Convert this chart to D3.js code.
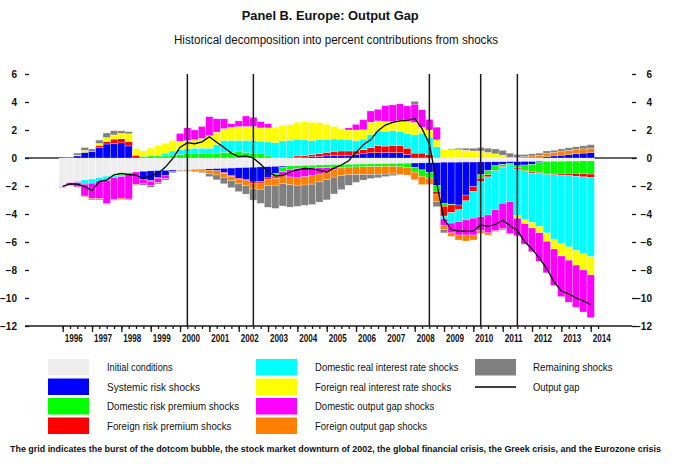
<!DOCTYPE html>
<html>
<head>
<meta charset="utf-8">
<script src="https://cdn.jsdelivr.net/npm/d3@7"></script>
<style>
  body { margin: 0; background: #fff; }
  svg { display: block; }
  text { font-family: "Liberation Sans Narrow", "Arial Narrow", "Liberation Sans", Arial, sans-serif; fill: #111; }
</style>
</head>
<body>
<svg id="chart" width="673" height="466"></svg>
<script>
// Quarterly periods 1996Q1 .. 2014Q1
const quarters = d3.range(73).map(i => `${1996 + Math.floor(i / 4)}Q${i % 4 + 1}`);

// Contributions to the output gap (percent), one value per quarter
const initialConditions = [
  -2.05,-1.76,-1.66,-1.57, -1.50,-1.40,-1.30,-1.20, -1.12,-1.05,-1.00,-0.95,
  -0.92,-0.90,-0.88,-0.86, -0.85,-0.83,-0.82,-0.80, -0.78,-0.76,-0.74,-0.72,
  -0.70,-0.68,-0.66,-0.64, -0.62,-0.60,-0.58,-0.56, -0.55,-0.53,-0.52,-0.50,
  -0.49,-0.47,-0.46,-0.45, -0.44,-0.43,-0.42,-0.41, -0.40,-0.39,-0.38,-0.37,
  -0.36,-0.35,-0.34,-0.33, -0.30,-0.30,-0.30,-0.29, -0.29,-0.28,-0.28,-0.27,
  -0.27,-0.26,-0.26,-0.25, -0.25,-0.24,-0.24,-0.23, -0.23,-0.22,-0.22,-0.21,
  -0.21];
const systemicRisk = [
  0.00,0.05,0.15,0.40, 0.45,0.76,1.00,1.05, 1.08,0.86,0.00,-0.60,
  -0.70,-0.50,-0.35,-0.10, 0.00,0.00,-0.03,-0.05, -0.10,-0.15,-0.30,-0.55,
  -0.75,-0.85,-1.05,-1.05, -0.80,-0.50,-0.10,0.02, 0.05,0.07,0.10,0.12,
  0.15,0.18,0.20,0.20, 0.25,0.30,0.38,0.38, 0.40,0.40,0.38,0.25,
  -0.30,-0.50,-0.70,-1.65, -2.95,-3.00,-3.06,-2.36, -1.76,-0.92,-0.62,-0.28,
  -0.18,-0.14,-0.30,-0.25, -0.20,-0.10,0.10,0.15, 0.20,0.25,0.30,0.35,
  0.40];
const domesticRiskPremium = [
  0,0,0,0, 0,0,0,-0.05, -0.10,-0.10,0,0.12,
  0.15,0.15,0.15,0.20, 0.25,0.30,0.30,0.30, 0.30,0.35,0.40,0.40,
  0.45,0.40,0.35,0.30, 0.15,-0.15,-0.30,-0.25, -0.20,-0.20,-0.20,-0.20,
  -0.20,-0.20,-0.20,-0.20, -0.20,-0.20,-0.20,-0.20, -0.20,-0.20,-0.25,-0.30,
  -0.35,-0.45,-0.40,-0.40, -0.20,-0.05,0,0, 0,-0.25,-0.30,-0.25,
  -0.15,-0.10,-0.15,-0.40, -0.55,-0.70,-0.86,-0.87, -0.87,-0.88,-0.88,-0.91,
  -0.94];
const foreignRiskPremium = [
  0,0,0,0, 0,0.14,0.17,0.30, 0.30,0.31,0.20,0,
  -0.05,-0.05,0,0, 0,0,0,0, 0,0,-0.05,-0.05,
  -0.10,-0.10,-0.10,-0.10, -0.10,-0.10,0.02,0.05, 0.10,0.12,0.15,0.20,
  0.25,0.30,0.30,0.30, 0.25,0.30,0.35,0.50, 0.45,0.50,0.50,0.45,
  0.35,0.35,0.25,-0.20, -0.70,-0.55,-0.34,-0.41, -0.35,-0.25,-0.15,-0.10,
  -0.05,-0.05,-0.08,-0.08, -0.08,-0.08,-0.08,-0.10, -0.12,-0.15,-0.20,-0.23,
  -0.25];
const domesticRealRate = [
  0,0,-0.10,-0.30, -0.30,-0.25,-0.30,-0.15, -0.10,0,0,0,
  0,0,0.20,0.30, 0.35,0.35,0.40,0.40, 0.40,0.60,0.85,0.85,
  0.80,0.85,0.90,0.90, 1.00,1.10,1.20,1.20, 1.20,1.10,1.00,1.00,
  0.90,0.88,0.83,0.80, 0.75,0.75,0.95,1.05, 1.05,1.05,1.00,1.05,
  1.30,1.40,1.20,0.80, -0.20,-0.75,-0.85,-1.37, -1.90,-2.49,-2.72,-2.80,
  -2.59,-2.57,-3.32,-3.42, -3.52,-3.77,-4.17,-4.60, -4.88,-5.10,-5.30,-5.45,
  -5.65];
const foreignRealRate = [
  0,0,0.05,0.15, 0,0.14,0.29,0.30, 0.38,0.56,0.48,0.40,
  0.55,0.75,0.70,0.75, 0.60,0.60,0.60,0.70, 0.90,0.90,0.85,0.95,
  1.00,1.00,1.00,0.95, 1.00,1.10,1.10,1.10, 1.20,1.30,1.30,1.20,
  1.10,0.90,0.76,0.70, 0.75,0.67,0.88,0.72, 0.72,0.65,0.80,0.85,
  0.90,0.45,0.55,0.50, 0.60,0.60,0.60,0.55, 0.50,0.50,0.40,0.30,
  0.20,0.05,-0.20,-0.30, -0.40,-0.45,-0.60,-0.70, -0.90,-0.95,-1.05,-1.20,
  -1.30];
const domesticOutputGap = [
  -0.05,-0.20,-0.30,-0.85, -1.10,-1.25,-1.65,-1.55, -1.55,-1.78,-0.90,-0.30,
  -0.30,-0.30,-0.25,0, 0.55,0.90,0.70,0.85, 1.35,0.95,0.70,0.25,
  0.40,0.75,0.65,0.45, 0.30,-0.10,-0.30,-0.55, -0.65,-0.60,-0.55,-0.45,
  -0.30,-0.15,-0.05,0.15, 0.40,0.71,0.80,0.83, 1.12,1.19,1.19,1.12,
  1.30,1.25,0.75,0.90, -0.45,-0.70,-0.95,-1.07, -1.20,-1.01,-1.28,-1.50,
  -1.81,-2.28,-1.25,-1.45, -1.70,-2.05,-2.25,-2.60, -2.90,-3.00,-3.00,-3.00,
  -3.05];
const foreignOutputGap = [
  0,0,0,-0.05, -0.10,-0.10,-0.05,-0.07, -0.10,-0.07,-0.05,0,
  0,0,0,0, -0.05,-0.05,-0.10,-0.15, -0.25,-0.30,-0.30,-0.30,
  -0.30,-0.35,-0.40,-0.45, -0.45,-0.50,-0.55,-0.55, -0.55,-0.60,-0.60,-0.55,
  -0.55,-0.55,-0.55,-0.55, -0.55,-0.55,-0.55,-0.55, -0.55,-0.55,-0.55,-0.55,
  -0.55,-0.60,-0.45,-0.55, -0.30,-0.25,-0.36,-0.43, -0.36,-0.18,-0.15,-0.06,
  -0.09,-0.05,0.05,0.10, 0.15,0.20,0.25,0.25, 0.30,0.30,0.30,0.30,
  0.30];
const remainingShocks = [
  0,0,0.15,0.20, 0.20,0.24,0.33,0.30, 0.18,0.15,0,-0.10,
  -0.12,-0.10,-0.10,-0.10, -0.05,-0.07,-0.05,-0.05, -0.20,-0.35,-0.45,-0.50,
  -0.55,-0.60,-0.80,-1.00, -1.55,-1.65,-1.60,-1.60, -1.50,-1.45,-1.45,-1.45,
  -1.45,-1.20,-1.00,-0.75, -0.55,-0.40,-0.30,-0.25, -0.18,-0.12,-0.05,0,
  0.20,0,0,-0.35, -0.25,0.05,0.10,0.15, 0.20,0.25,0.30,0.35,
  0.35,0.30,0.20,0.15, 0.15,0.15,0.15,0.15, 0.15,0.18,0.20,0.22,
  0.25];
const outputGap = [
  -2.02,-1.85,-1.87,-2.05, -2.33,-1.66,-1.58,-1.20, -1.10,-1.18,-1.22,-1.48,
  -1.28,-1.10,-0.65,-0.05, 0.75,1.10,1.02,1.15, 1.52,1.12,0.75,0.35,
  0.10,0.15,0.00,-0.45, -0.98,-1.28,-1.25,-1.00, -0.85,-0.75,-0.78,-0.88,
  -1.00,-0.72,-0.50,-0.20, 0.40,0.95,1.30,1.95, 2.35,2.55,2.65,2.68,
  2.83,2.10,1.00,-1.80, -4.40,-5.10,-5.22,-5.22, -5.20,-4.78,-4.88,-4.75,
  -4.45,-4.82,-5.18,-5.98, -6.50,-7.15,-7.90,-8.85, -9.50,-9.70,-10.00,-10.20,
  -10.48];

const shockNames = [
  "Initial conditions", "Systemic risk shocks", "Domestic risk premium shocks",
  "Foreign risk premium shocks", "Domestic real interest rate shocks",
  "Foreign real interest rate shocks", "Domestic output gap shocks",
  "Foreign output gap shocks", "Remaining shocks"];
const shockColors = ["#eeeeee", "#0000ff", "#00ff00", "#ff0000", "#00ffff",
                     "#ffff00", "#ff00ff", "#ff8000", "#808080"];
const yTicks = [6, 4, 2, 0, -2, -4, -6, -8, -10, -12];
const yearLabels = d3.range(1996, 2015).map(String);
const eventQuarters = ["2000Q2", "2002Q3", "2008Q3", "2010Q2", "2011Q3"];

const titleText = "Panel B. Europe: Output Gap";
const subtitleText = "Historical decomposition into percent contributions from shocks";
const noteText = "The grid indicates the burst of the dotcom bubble, the stock market downturn of 2002, the global financial crisis, the Greek crisis, and the Eurozone crisis";

// ---------------------------------------------------------------------------
const svg = d3.select("#chart");
const ink = "#1a1a1a";

const seriesValues = [initialConditions, systemicRisk, domesticRiskPremium,
  foreignRiskPremium, domesticRealRate, foreignRealRate, domesticOutputGap,
  foreignOutputGap, remainingShocks];
const keys = shockNames;
const rows = quarters.map((q, i) => {
  const r = { quarter: q };
  keys.forEach((k, j) => { r[k] = seriesValues[j][i]; });
  return r;
});
const stacked = d3.stack().keys(keys).offset(d3.stackOffsetDiverging)(rows);

const x = d3.scaleBand().domain(quarters).range([59.03, 594.36]).padding(0);
const step = x.step();
const xc = q => x(q) + step / 2;
const xt = d3.scaleLinear().domain([0, 73]).range([xc(quarters[0]), xc(quarters[0]) + 73 * step]);
const y = d3.scaleLinear().domain([-12, 6]).range([326, 74]);

// zero line
svg.append("line")
  .attr("x1", 25).attr("x2", 637).attr("y1", y(0)).attr("y2", y(0))
  .attr("stroke", "#333").attr("stroke-width", 1.3);

// stacked contributions
svg.append("g").selectAll("g").data(stacked).join("g")
  .attr("fill", (d, i) => shockColors[i])
  .selectAll("rect").data(d => d.filter(p => p[1] !== p[0])).join("rect")
  .attr("x", d => x(d.data.quarter))
  .attr("width", x.bandwidth())
  .attr("y", d => y(d[1]))
  .attr("height", d => y(d[0]) - y(d[1]))
  .attr("stroke", "#ffffff").attr("stroke-width", 0.5).attr("stroke-opacity", 0.55);

// event grid lines
svg.append("g").selectAll("line").data(eventQuarters).join("line")
  .attr("x1", d => xc(d)).attr("x2", d => xc(d))
  .attr("y1", y(6)).attr("y2", y(-12))
  .attr("stroke", ink).attr("stroke-width", 1.5);

// output gap
svg.append("path")
  .datum(outputGap)
  .attr("fill", "none").attr("stroke", "#000").attr("stroke-width", 1.3)
  .attr("d", d3.line().x((d, i) => xc(quarters[i])).y(d => y(d)));

// bottom axis
svg.append("line")
  .attr("x1", 25).attr("x2", 632).attr("y1", y(-12)).attr("y2", y(-12))
  .attr("stroke", ink).attr("stroke-width", 1.5);

const minorAxis = svg.append("g").attr("transform", `translate(0,${y(-12)})`)
  .call(d3.axisBottom(xt).tickValues(d3.range(0, 74)).tickSize(3).tickFormat(""));
const majorAxis = svg.append("g").attr("transform", `translate(0,${y(-12)})`)
  .call(d3.axisBottom(xt).tickValues(d3.range(0, 73, 4)).tickSize(6).tickFormat(""));
[minorAxis, majorAxis].forEach(g => {
  g.select(".domain").remove();
  g.selectAll(".tick line").attr("stroke", ink).attr("stroke-width", 1.3);
});

svg.append("g").selectAll("text").data(yearLabels).join("text")
  .attr("x", (d, i) => xt(i * 4) + 11)
  .attr("y", 342)
  .attr("text-anchor", "middle")
  .attr("font-size", 10).attr("font-weight", "bold")
  .attr("textLength", 18).attr("lengthAdjust", "spacingAndGlyphs")
  .text(d => d);

// left and right value axes
function styleValueAxis(g) {
  g.select(".domain").remove();
  g.selectAll(".tick line").attr("stroke", ink).attr("stroke-width", 1.3);
  g.selectAll(".tick text")
    .attr("font-family", "\"Liberation Sans Narrow\", \"Arial Narrow\", \"Liberation Sans\", Arial, sans-serif")
    .attr("font-size", 10).attr("font-weight", "bold").attr("fill", "#111");
}
svg.append("g").attr("transform", "translate(29,0)")
  .call(d3.axisLeft(y).tickValues(yTicks).tickSize(4).tickPadding(8).tickFormat(d3.format("d")))
  .call(styleValueAxis)
  .attr("font-family", null).attr("font-size", null);
svg.append("g").attr("transform", "translate(632,0)")
  .call(d3.axisRight(y).tickValues(yTicks).tickSize(4).tickFormat(d3.format("d")))
  .call(styleValueAxis)
  .call(g => g.selectAll(".tick text").attr("text-anchor", "end").attr("x", 20))
  .attr("font-family", null).attr("font-size", null);

// titles
svg.append("text").attr("x", 241.7).attr("y", 20)
  .attr("font-size", 13).attr("font-weight", "bold")
  .attr("textLength", 177).attr("lengthAdjust", "spacingAndGlyphs")
  .text(titleText);
svg.append("text").attr("x", 174).attr("y", 44)
  .attr("font-size", 12.5)
  .attr("textLength", 324).attr("lengthAdjust", "spacingAndGlyphs")
  .text(subtitleText);

// legend
const legendNames = shockNames.concat(["Output gap"]);
const legendTextWidths = [65.5, 93, 132, 124.4, 143.4, 136.2, 119.2, 112, 79.6, 46.5];
const colSwatchX = [48, 256, 475];
const colTextX = [107, 315, 533];
const legend = svg.append("g").selectAll("g").data(legendNames).join("g")
  .attr("transform", (d, i) => `translate(0,${359 + (i % 4) * 19.5})`);
legend.each(function (d, i) {
  const g = d3.select(this);
  const col = Math.floor(i / 4);
  if (i < shockNames.length) {
    g.append("rect").attr("x", colSwatchX[col]).attr("y", 0)
      .attr("width", 41).attr("height", 16.5).attr("fill", shockColors[i]);
  } else {
    g.append("line").attr("x1", colSwatchX[col]).attr("x2", colSwatchX[col] + 41)
      .attr("y1", 8.5).attr("y2", 8.5).attr("stroke", "#000").attr("stroke-width", 1.3);
  }
  g.append("text").attr("x", colTextX[col]).attr("y", 12.3)
    .attr("font-size", 11)
    .attr("textLength", legendTextWidths[i]).attr("lengthAdjust", "spacingAndGlyphs")
    .text(d);
});

// note, centred under the chart
svg.append("text").attr("x", 335.5).attr("y", 451.5)
  .attr("text-anchor", "middle")
  .attr("font-size", 9).attr("font-weight", "bold")
  .attr("textLength", 651).attr("lengthAdjust", "spacingAndGlyphs")
  .text(noteText);
</script>
</body>
</html>
